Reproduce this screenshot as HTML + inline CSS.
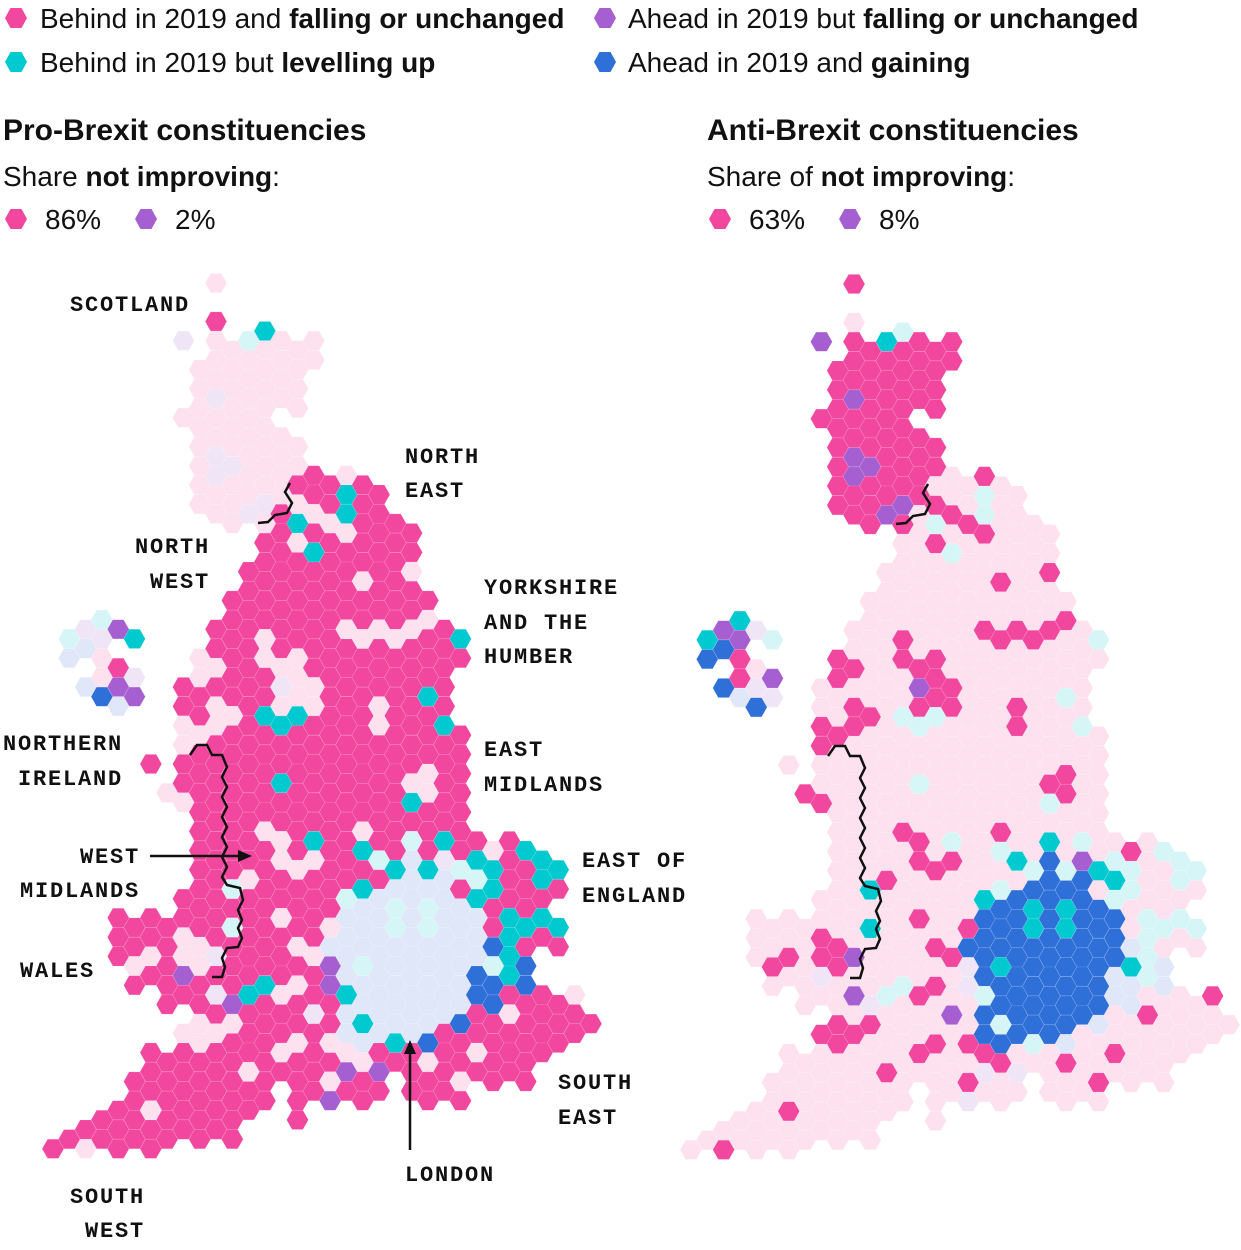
<!DOCTYPE html>
<html><head><meta charset="utf-8"><style>
body{margin:0;background:#fff;width:1241px;height:1250px;overflow:hidden;font-family:"Liberation Sans",sans-serif}
svg{display:block}
.lg{font-family:"Liberation Sans",sans-serif;font-size:28px;fill:#111}
.ttl{font-family:"Liberation Sans",sans-serif;font-size:30px;font-weight:bold;fill:#111}
.sub{font-family:"Liberation Sans",sans-serif;font-size:28px;fill:#111}
.rl{font-family:"Liberation Mono",monospace;font-size:22px;font-weight:bold;fill:#111;letter-spacing:1.8px}
</style></head><body>
<svg id="chart" width="1241" height="1250" viewBox="0 0 1241 1250">
<g>
<g><polygon points="5,18 10.5,8 21.5,8 27,18 21.5,28 10.5,28" fill="#f2479e"/><text class="lg" x="40" y="28">Behind in 2019 and <tspan font-weight="bold">falling or unchanged</tspan></text></g>
<g><polygon points="5,62 10.5,52 21.5,52 27,62 21.5,72 10.5,72" fill="#00c9cf"/><text class="lg" x="40" y="72">Behind in 2019 but <tspan font-weight="bold">levelling up</tspan></text></g>
<g><polygon points="594,18 599.5,8 610.5,8 616,18 610.5,28 599.5,28" fill="#a65fd0"/><text class="lg" x="628" y="28">Ahead in 2019 but <tspan font-weight="bold">falling or unchanged</tspan></text></g>
<g><polygon points="594,62 599.5,52 610.5,52 616,62 610.5,72 599.5,72" fill="#2f6fd8"/><text class="lg" x="628" y="72">Ahead in 2019 and <tspan font-weight="bold">gaining</tspan></text></g>
</g>
<g>
<text class="ttl" x="3" y="140">Pro-Brexit constituencies</text>
<text class="sub" x="3" y="186">Share <tspan font-weight="bold">not improving</tspan>:</text>
<polygon points="5,219 10.5,209 21.5,209 27,219 21.5,229 10.5,229" fill="#f2479e"/>
<text class="sub" x="45" y="229">86%</text>
<polygon points="135,219 140.5,209 151.5,209 157,219 151.5,229 140.5,229" fill="#a65fd0"/>
<text class="sub" x="175" y="229">2%</text>
</g>
<g>
<text class="ttl" x="707" y="140">Anti-Brexit constituencies</text>
<text class="sub" x="707" y="186">Share of <tspan font-weight="bold">not improving</tspan>:</text>
<polygon points="709,219 714.5,209 725.5,209 731,219 725.5,229 714.5,229" fill="#f2479e"/>
<text class="sub" x="749" y="229">63%</text>
<polygon points="839,219 844.5,209 855.5,209 861,219 855.5,229 844.5,229" fill="#a65fd0"/>
<text class="sub" x="879" y="229">8%</text>
</g>
<g id="leftMap"></g>
<g id="rightMap"></g>
<g>
<text class="rl" x="70" y="311">SCOTLAND</text>
<text class="rl" x="405" y="463">NORTH</text><text class="rl" x="405" y="497">EAST</text>
<text class="rl" x="135" y="553">NORTH</text><text class="rl" x="150" y="588">WEST</text>
<text class="rl" x="484" y="594">YORKSHIRE</text><text class="rl" x="484" y="629">AND THE</text><text class="rl" x="484" y="663">HUMBER</text>
<text class="rl" x="3" y="750">NORTHERN</text><text class="rl" x="18" y="785">IRELAND</text>
<text class="rl" x="484" y="756">EAST</text><text class="rl" x="484" y="791">MIDLANDS</text>
<text class="rl" x="80" y="863">WEST</text><text class="rl" x="20" y="897">MIDLANDS</text>
<text class="rl" x="582" y="867">EAST OF</text><text class="rl" x="582" y="902">ENGLAND</text>
<text class="rl" x="20" y="977">WALES</text>
<text class="rl" x="558" y="1089">SOUTH</text><text class="rl" x="558" y="1124">EAST</text>
<text class="rl" x="405" y="1181">LONDON</text>
<text class="rl" x="70" y="1203">SOUTH</text><text class="rl" x="85" y="1237">WEST</text>
</g>
<g>
<line x1="150" y1="856" x2="240" y2="856" stroke="#111" stroke-width="2.5"/>
<polygon points="252,856 238,850 238,862" fill="#111"/>
<line x1="410" y1="1150" x2="410" y2="1052" stroke="#111" stroke-width="2.5"/>
<polygon points="410,1040 404,1054 416,1054" fill="#111"/>
</g>
</svg>
<script>
// Categories: P=behind&falling, T=behind levelling up, U=ahead falling, B=ahead gaining
// Uppercase = pro-Brexit constituency, lowercase = anti-Brexit constituency
const rows0to11 = [
"..........p.......................",
"..................................",
"..........P..T....................",
"........u.pptpppp.................",
".........pppppppp.................",
".........ppppppp..................",
".........puppppp..................",
"........pppppp....................",
".........ppppppp..................",
".........puupppp..................",
".........puppppPPPpP..............",
".........ppppuppPPTPP............."
];
const rows12to23 = [
"..........ppupPTppTPPP............",
".............PPpPPpPPPP...........",
".............PPPTPPPPPP...........",
"............PPPPPPPpPPp...........",
"...........PPPPPPPPPPPPP..........",
"...t.......PPPPPPPPPPPPp..........",
".tuuUT....PPPpPPPPpppppPPT........",
".bbp.....pPPPpPpPPPPPPPPPP........",
"...pPu...ppPPPppPPPPPPPPP.........",
"..bBUU..PPPPPPuppPPPPPPTP.........",
"....b...PPppPTpTpPPPpPPPP.........",
"........pppPPPTPPPPPpPPPTP........"
];
const rows24to35 = [
"........pPPPPPPPPPPPPPPPPP........",
"......P.PPPPPPPPPPPPPPPpPP........",
".......pPPPPPPTPPPPPPPppPP........",
"........pPPPPPPPPPPPPPTPPP........",
".........PPPPpPPPPPpPPPPPP........",
".........PPPPPpPTPPTPPtPTPPpPT....",
".........PPPPPpppPPPtTbTutTTPPTT..",
".........PPtpPPPPPPTPbbbbPtTPPTP..",
"........PPPPPPPPPPtbbtbtbbTPPPP...",
"....PPPPPPPtPPpPPpbbbtbtbbbPTTTT..",
"....PPPPppPPPPPpPbbbbbbbbbbBTPPP..",
"....PppPppuPPPPPpUbtbbbbbbbtTB...."
];
const rows36to45 = [
".....PPPUPPPPTPpPUbbbbbbbbBBTB....",
".......PPPuUTPpPPPTbbbbbbbBBPPPPp.",
".........pPpPPPPuPbTbbbbbBPPpPPPPP",
"........pppPPPPpPpbbbTbBPPPPPPPPP.",
"......PPPPPPPPpPPPppPPPpPPpPPPP...",
".....PPPPPPPpPPPPpUPU.PPPpPPPP....",
".....PPPPPPPPP.PPUPPP.PPPP........",
"...PPPpPPPPPP..P..................",
".PPPPPPPPPPP......................",
"P.p.P.P..........................."
];
const gridRows = rows0to11.concat(rows12to23, rows24to35, rows36to45);

const FULL = {P:'#f2479e',T:'#00c9cf',U:'#a65fd0',B:'#2f6fd8'};
const FADED = {P:'#fde1ee',T:'#d6f5f6',U:'#efe5f6',B:'#dfe7f8'};
const NS='http://www.w3.org/2000/svg';
const COLW=16.3, ROWH=19.24, HW=21.7, HH=19.2;
function xPos(c,ox){return ox+c*COLW;}
function yPos(c,r,oy){return oy+r*ROWH+(c%2?ROWH/2:0);}
function hexPts(cx,cy){
  const a=HW/2,b=HW/4,h=HH/2;
  return [[cx-a,cy],[cx-b,cy-h],[cx+b,cy-h],[cx+a,cy],[cx+b,cy+h],[cx-b,cy+h]].map(p=>p[0].toFixed(1)+','+p[1].toFixed(1)).join(' ');
}
function drawMap(g,ox,oy,proFull){
  gridRows.forEach((row,r)=>{
    for(let c=0;c<row.length;c++){
      const ch=row[c]; if(ch==='.')continue;
      const cat=ch.toUpperCase(); const isPro=ch===cat;
      const full = proFull?isPro:!isPro;
      const p=document.createElementNS(NS,'polygon');
      p.setAttribute('points',hexPts(xPos(c,ox),yPos(c,r,oy)));
      p.setAttribute('fill',full?FULL[cat]:FADED[cat]);
      p.setAttribute('stroke','rgba(255,255,255,0.18)');
      p.setAttribute('stroke-width','0.6');
      
      
      g.appendChild(p);
    }
  });
  const sc=document.createElementNS(NS,'polyline');
  sc.setAttribute('points',[[290,483],[285,492],[292,503],[287,513],[275,515],[268,522],[258,523]].map(p=>(p[0]-53+ox)+','+(p[1]-283+oy)).join(' '));
  sc.setAttribute('fill','none');sc.setAttribute('stroke','#111');sc.setAttribute('stroke-width','2.5');
  
  
  g.appendChild(sc);
  const wl=document.createElementNS(NS,'polyline');
  wl.setAttribute('points',[[190,755],[197,745],[207,745],[212,755],[222,755],[227,767],[222,777],[227,787],[222,797],[227,807],[222,817],[227,827],[222,837],[227,847],[222,857],[227,867],[222,877],[227,885],[240,888],[243,900],[238,910],[242,920],[238,928],[242,938],[238,947],[227,948],[222,958],[225,967],[222,977],[212,977]].map(p=>(p[0]-53+ox)+','+(p[1]-283+oy)).join(' '));
  wl.setAttribute('fill','none');wl.setAttribute('stroke','#111');wl.setAttribute('stroke-width','2.5');
  
  
  g.appendChild(wl);
}
drawMap(document.getElementById('leftMap'),53,283,true);
drawMap(document.getElementById('rightMap'),691,284,false);
</script>
</body></html>
